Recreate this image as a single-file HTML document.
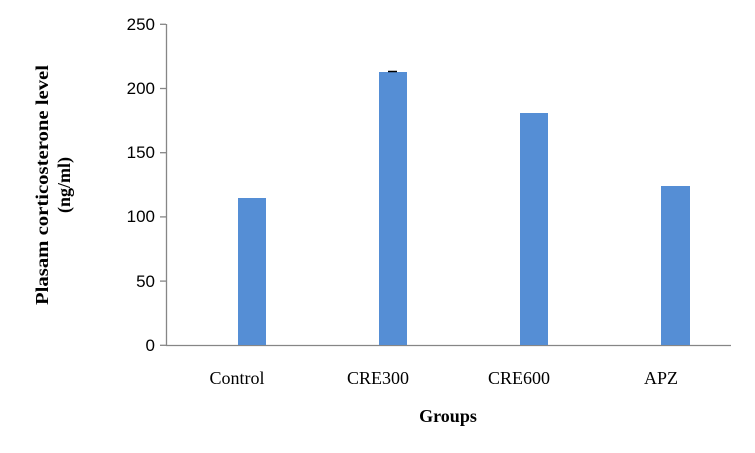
<!DOCTYPE html>
<html><head><meta charset="utf-8"><style>
html,body{margin:0;padding:0;background:#fff;}
svg{display:block;}
</style></head><body>
<svg width="755" height="453" viewBox="0 0 755 453" xmlns="http://www.w3.org/2000/svg">
<g stroke="#868686" stroke-width="1.3" fill="none">
<line x1="166.5" y1="24" x2="166.5" y2="345.5"/>
<line x1="166" y1="345.5" x2="731" y2="345.5"/>
<line x1="160" y1="24.3" x2="166" y2="24.3"/>
<line x1="160" y1="88.5" x2="166" y2="88.5"/>
<line x1="160" y1="152.7" x2="166" y2="152.7"/>
<line x1="160" y1="216.9" x2="166" y2="216.9"/>
<line x1="160" y1="281.1" x2="166" y2="281.1"/>
<line x1="160" y1="345.3" x2="166" y2="345.3"/>
</g>
<g font-family="Liberation Sans, sans-serif" font-size="17" fill="#000" text-anchor="end">
<text x="155" y="30">250</text>
<text x="155" y="94">200</text>
<text x="155" y="158">150</text>
<text x="155" y="222">100</text>
<text x="155" y="287">50</text>
<text x="155" y="351">0</text>
</g>
<g fill="#558ED5">
<rect x="238" y="198" width="28" height="147"/>
<rect x="379" y="72" width="28" height="273"/>
<rect x="520" y="113" width="28" height="232"/>
<rect x="661" y="186" width="29" height="159"/>
</g>
<line x1="388" y1="71.5" x2="397" y2="71.5" stroke="#000" stroke-width="1.5"/>
<g font-family="Liberation Serif, serif" font-size="18" fill="#000" text-anchor="middle">
<text x="237" y="384">Control</text>
<text x="378" y="384">CRE300</text>
<text x="519" y="384">CRE600</text>
<text x="661" y="384">APZ</text>
<text x="448" y="422" font-weight="bold">Groups</text>
</g>
<g font-family="Liberation Serif, serif" font-size="18" font-weight="bold" fill="#000" text-anchor="middle">
<text transform="translate(48,185) rotate(-90)" textLength="240" lengthAdjust="spacingAndGlyphs">Plasam corticosterone level</text>
<text transform="translate(70,185) rotate(-90)">(ng/ml)</text>
</g>
</svg>
</body></html>
